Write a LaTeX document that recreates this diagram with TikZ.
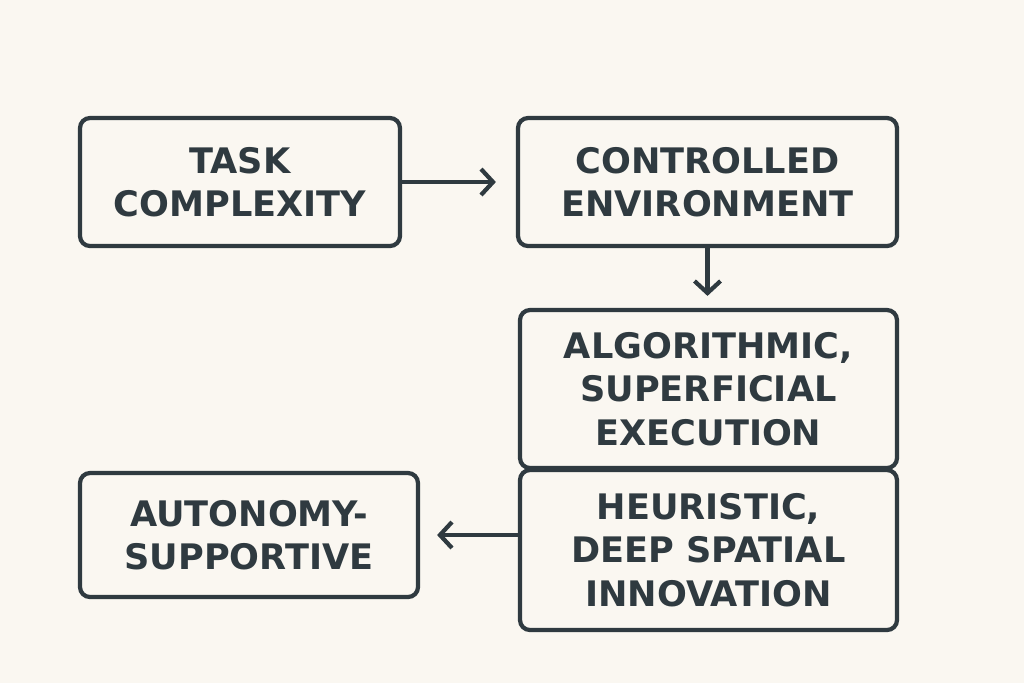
\documentclass[tikz,border=0pt]{standalone}
\usepackage{fontspec}
\setmainfont{DejaVu Sans}
\usepackage{tikz}
\usetikzlibrary{arrows.meta,positioning}
\definecolor{ink}{HTML}{2F3A40}
\definecolor{paper}{HTML}{FAF7F1}

\begin{document}
\begin{tikzpicture}[%
    box/.style={draw=ink, line width=1.2pt, rounded corners=0.1cm, align=center,
                text=ink, font=\bfseries\fontsize{10}{12.4}\selectfont, inner sep=0pt},
    arr/.style={draw=ink, line width=1.2pt, -{Straight Barb[length=0.12cm,width=0.26cm,line width=1.2pt]}}
]
    \fill[paper] (0,0) rectangle (10.24,-6.83);
    \useasboundingbox (0,0) rectangle (10.24,-6.83);

    \node[box, minimum width=3.2cm,  minimum height=1.28cm] (task) at (2.40,-1.82) {TASK\\COMPLEXITY};
    \node[box, minimum width=3.79cm, minimum height=1.28cm] (ctrl) at (7.075,-1.82) {CONTROLLED\\ENVIRONMENT};
    \node[box, minimum width=3.77cm, minimum height=1.58cm] (algo) at (7.085,-3.89) {ALGORITHMIC,\\SUPERFICIAL\\EXECUTION};
    \node[box, minimum width=3.77cm, minimum height=1.60cm] (heur) at (7.085,-5.50) {HEURISTIC,\\DEEP SPATIAL\\INNOVATION};
    \node[box, minimum width=3.38cm, minimum height=1.24cm] (auto) at (2.49,-5.35) {AUTONOMY-\\SUPPORTIVE};

    \draw[arr] (task.east) -- ([xshift=-0.2cm]ctrl.west);
    \draw[arr] (ctrl.south) -- ([yshift=0.12cm]ctrl.south |- algo.north);
    \draw[arr] (heur.west |- auto.east) -- ([xshift=0.17cm]auto.east);
\end{tikzpicture}
\end{document}
